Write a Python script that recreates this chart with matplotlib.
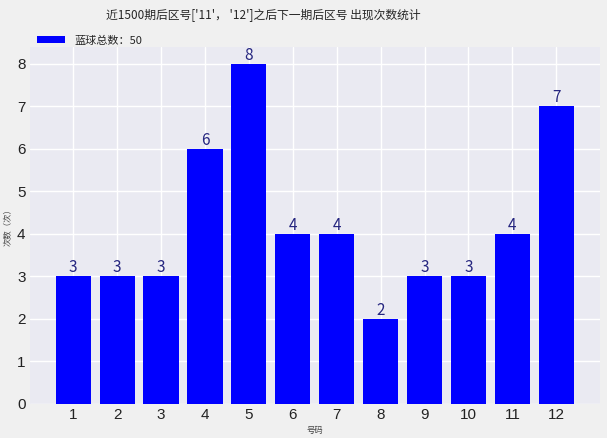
import matplotlib
matplotlib.use("Agg")
from matplotlib import pyplot as plt
import seaborn as sns

numbers = ["1", "2", "3", "4", "5", "6", "7", "8", "9", "10", "11", "12"]
counts = [3, 3, 3, 6, 8, 4, 4, 2, 3, 3, 4, 7]
title = "近1500期后区号['11'， '12']之后下一期后区号 出现次数统计"
legend_label = "蓝球总数：50"

sns.set_style("darkgrid")
plt.rcParams['font.family'] = ['Noto Sans CJK SC', 'DejaVu Sans']
plt.rcParams['axes.unicode_minus'] = False

fig = plt.figure(figsize=(6.07, 4.38), dpi=100, facecolor="#f0f0f0")
ax = fig.add_axes([0.049, 0.078, 0.939, 0.815])
ax.set_facecolor("#eaeaf2")

x = list(range(1, len(numbers) + 1))
bars = ax.bar(x, counts, width=0.8, color="#0000ff", edgecolor="none",
              linewidth=0, label=legend_label, zorder=2)
for b, c in zip(bars, counts):
    ax.text(b.get_x() + b.get_width() / 2, c, str(c), ha="center", va="bottom",
            fontsize=11, color="#262680")

ax.set_xticks(x)
ax.set_xticklabels(numbers)
ax.tick_params(axis="both", labelsize=11, colors="#222222", length=0, pad=3)
for lbl in ax.get_xticklabels() + ax.get_yticklabels():
    lbl.set_family(['Liberation Sans', 'DejaVu Sans'])
ax.set_xlabel("号码", fontsize=6, color="#444444", labelpad=3)
ax.set_ylabel("次数（次）", fontsize=6, color="#444444", labelpad=4)
ax.grid(True, color="white", linewidth=1)
for s in ax.spines.values():
    s.set_visible(False)

fig.text(0.433, 0.965, title, fontsize=8.5, ha="center", va="center")
ax.legend(loc="lower left", bbox_to_anchor=(0.01, 1.0), frameon=False,
          fontsize=8, borderaxespad=0.0, borderpad=0.1, handlelength=2.6,
          handleheight=0.6)

fig.savefig("out.png", dpi=100, facecolor=fig.get_facecolor())
